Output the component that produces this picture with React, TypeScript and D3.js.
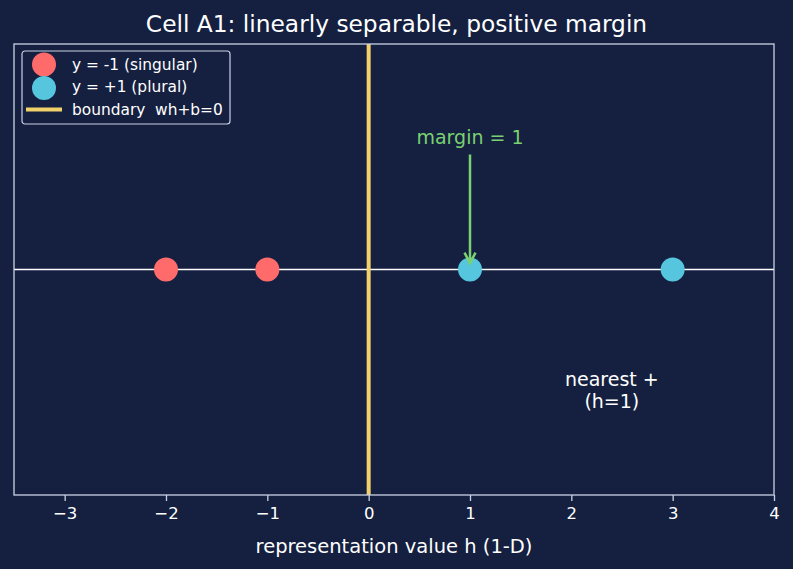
import React, { useEffect, useRef } from "react";
import * as d3 from "d3";

const negPoints = [-2, -1];
const posPoints = [1, 3];
const xTicks = [-3, -2, -1, 0, 1, 2, 3, 4];
const boundaryX = 0;
const legendLabels = ["y = -1 (singular)", "y = +1 (plural)", "boundary  wh+b=0"];

const W = 793, H = 569;
const BG = "#152040";
const FG = "#ffffff";
const SPINE = "#c9d1e3";
const RED = "#ff6b6b";
const CYAN = "#56c6df";
const YELLOW = "#f2d16b";
const GREEN = "#7bd170";

export default function App() {
  const ref = useRef<SVGSVGElement>(null);

  useEffect(() => {
    const margin = { top: 44, right: 19, bottom: 74, left: 14 };
    const w = W - margin.left - margin.right,
      h = H - margin.top - margin.bottom;

    const svg = d3.select(ref.current);
    svg.selectAll("*").remove();
    svg.append("rect").attr("width", W).attr("height", H).attr("fill", BG);

    const g = svg.append("g").attr("transform", `translate(${margin.left},${margin.top})`);

    const x = d3.scaleLinear().domain([-3.5, 4]).range([0, w]);
    const y = d3.scaleLinear().domain([-1, 1]).range([h, 0]);

    // baseline
    g.append("line")
      .attr("x1", 0).attr("x2", w)
      .attr("y1", y(0)).attr("y2", y(0))
      .attr("stroke", FG).attr("stroke-width", 1.3);

    // boundary
    g.append("line")
      .attr("x1", x(boundaryX)).attr("x2", x(boundaryX))
      .attr("y1", 0).attr("y2", h)
      .attr("stroke", YELLOW).attr("stroke-width", 4);

    g.selectAll(".neg").data(negPoints).join("circle")
      .attr("class", "neg")
      .attr("cx", (d) => x(d)).attr("cy", y(0)).attr("r", 12)
      .attr("fill", RED);
    g.selectAll(".pos").data(posPoints).join("circle")
      .attr("class", "pos")
      .attr("cx", (d) => x(d)).attr("cy", y(0)).attr("r", 12)
      .attr("fill", CYAN);

    // margin annotation
    const ax = x(1);
    g.append("text")
      .attr("x", ax).attr("y", y(0.556))
      .attr("text-anchor", "middle")
      .attr("fill", GREEN)
      .style("font-size", "19px")
      .text("margin = 1");
    g.append("line")
      .attr("x1", ax).attr("x2", ax)
      .attr("y1", y(0.51)).attr("y2", y(0.04))
      .attr("stroke", GREEN).attr("stroke-width", 2.5);
    g.append("path")
      .attr("d", `M${ax - 5.5},${y(0.075)} L${ax},${y(0.028)} L${ax + 5.5},${y(0.075)}`)
      .attr("fill", "none")
      .attr("stroke", GREEN).attr("stroke-width", 2.5);

    // nearest + text
    const nt = g.append("text")
      .attr("text-anchor", "middle")
      .attr("fill", FG)
      .style("font-size", "19px");
    nt.append("tspan").attr("x", x(2.4)).attr("y", y(-0.516)).text("nearest +");
    nt.append("tspan").attr("x", x(2.4)).attr("y", y(-0.614)).text("(h=1)");

    // frame
    g.append("rect")
      .attr("width", w).attr("height", h)
      .attr("fill", "none").attr("stroke", SPINE).attr("stroke-width", 1.3);

    // x axis
    const xAxis = g.append("g")
      .attr("transform", `translate(0,${h})`)
      .call(d3.axisBottom(x).tickValues(xTicks).tickSize(6).tickPadding(6).tickFormat((d) => d3.format("")(d as number).replace("-", "\u2212")));
    xAxis.select(".domain").remove();
    xAxis.selectAll("line").attr("stroke", SPINE).attr("stroke-width", 1.3);
    xAxis.selectAll("text").attr("fill", FG).style("font-size", "16.5px").style("font-family", "DejaVu Sans");

    g.append("text")
      .attr("x", w / 2).attr("y", h + 58)
      .attr("text-anchor", "middle")
      .attr("fill", FG)
      .style("font-size", "19.5px")
      .text("representation value h (1-D)");

    svg.append("text")
      .attr("x", W / 2).attr("y", 32)
      .attr("text-anchor", "middle")
      .attr("fill", FG)
      .style("font-size", "23.3px")
      .text("Cell A1: linearly separable, positive margin");

    // legend
    const lg = svg.append("g").attr("transform", "translate(22,51)");
    lg.append("rect")
      .attr("width", 208).attr("height", 73).attr("rx", 3)
      .attr("fill", BG).attr("stroke", SPINE).attr("stroke-width", 1.2);
    const rows = [0, 1, 2];
    lg.selectAll(".lt").data(rows).join("text")
      .attr("class", "lt")
      .attr("x", 50).attr("y", (d) => 19 + d * 22.3)
      .style("white-space", "pre")
      .attr("fill", FG)
      .style("font-size", "15.4px")
      .text((d) => legendLabels[d]);
    lg.append("circle").attr("cx", 22).attr("cy", 13.5).attr("r", 12).attr("fill", RED);
    lg.append("circle").attr("cx", 22).attr("cy", 37).attr("r", 12).attr("fill", CYAN);
    lg.append("line").attr("x1", 4).attr("x2", 40).attr("y1", 58.5).attr("y2", 58.5)
      .attr("stroke", YELLOW).attr("stroke-width", 4);
  }, []);

  return (
    <svg ref={ref} width={W} height={H}
      style={{ position: "absolute", left: 0, top: 0, fontFamily: "DejaVu Sans" }} />
  );
}
